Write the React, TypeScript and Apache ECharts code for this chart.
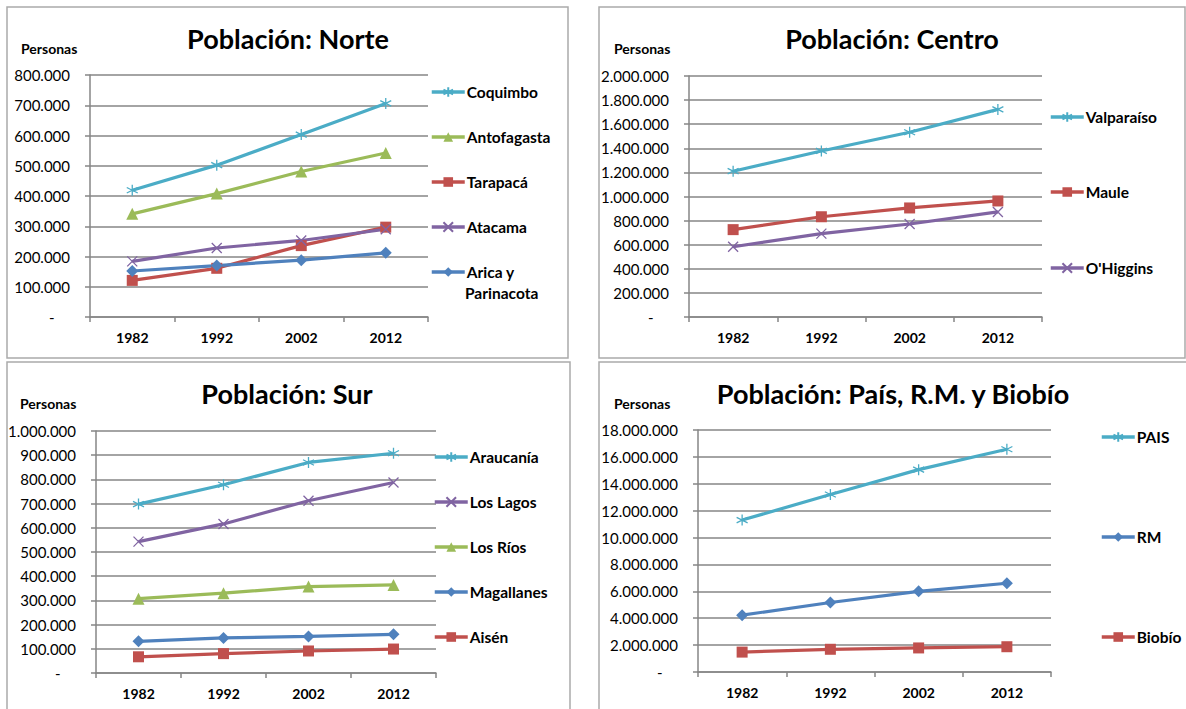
import React, { useEffect, useRef } from "react";
import * as echarts from "echarts";

const years = ["1982", "1992", "2002", "2012"];

// Norte
const coquimbo = [419000, 502000, 603000, 706000];
const antofagasta = [341000, 408000, 481000, 542000];
const tarapaca = [121000, 161000, 236000, 297000];
const atacama = [184000, 228000, 253000, 290000];
const arica = [152000, 170000, 188000, 212000];

// Centro
const valparaiso = [1210000, 1378000, 1533000, 1723000];
const maule = [725000, 832000, 905000, 963000];
const ohiggins = [583000, 692000, 772000, 872000];

// Sur
const araucania = [698000, 778000, 870000, 908000];
const losLagos = [543000, 616000, 712000, 787000];
const losRios = [307000, 330000, 357000, 364000];
const magallanes = [131000, 145000, 151000, 160000];
const aisen = [67000, 80000, 91000, 99000];

// País
const pais = [11300000, 13200000, 15050000, 16570000];
const rm = [4230000, 5170000, 6000000, 6600000];
const biobio = [1480000, 1690000, 1790000, 1880000];

const C_AQUA = "#4BACC6";
const C_GREEN = "#9BBB59";
const C_RED = "#C0504D";
const C_PURPLE = "#8064A2";
const C_BLUE = "#4F81BD";

const FONT = 'Lato, "Open Sans", sans-serif';

const STAR = "path://M0,-10L0,10M-8.66,-5L8.66,5M-8.66,5L8.66,-5";
const XMARK = "path://M-10,-10L10,10M-10,10L10,-10";

type Mk = "star" | "x" | "tri" | "sq" | "dia";

function markerOpts(m: Mk, color: string) {
  if (m === "star")
    return { symbol: STAR, symbolSize: 11, itemStyle: { color: color, borderColor: color, borderWidth: 1.3 } };
  if (m === "x")
    return { symbol: XMARK, symbolSize: 10, itemStyle: { color: color, borderColor: color, borderWidth: 1.3 } };
  if (m === "tri") return { symbol: "triangle", symbolSize: 12, itemStyle: { color: color } };
  if (m === "sq") return { symbol: "rect", symbolSize: 11, itemStyle: { color: color } };
  return { symbol: "diamond", symbolSize: 12, itemStyle: { color: color } };
}

function fmt(v: number) {
  if (v === 0) return "-    ";
  return String(v).replace(/\B(?=(\d{3})+(?!\d))/g, ".");
}

export default function App() {
  const ref = useRef<HTMLDivElement>(null);
  useEffect(() => {
    if (!ref.current) return;
    const chart = echarts.init(ref.current, null, { renderer: "svg" });

    const grids = [
      { left: 90, top: 75, width: 338, height: 242 },
      { left: 689, top: 76, width: 353, height: 241 },
      { left: 96, top: 431, width: 340, height: 242 },
      { left: 698, top: 430, width: 353, height: 242 },
    ];
    const yMax = [800000, 2000000, 1000000, 18000000];
    const yInt = [100000, 200000, 100000, 2000000];

    const xAxis = grids.map((_, i) => ({
      type: "category",
      gridIndex: i,
      data: years,
      boundaryGap: true,
      axisLine: { show: true, lineStyle: { color: "#868686", width: 1.5 } },
      axisTick: { show: true, length: 5, lineStyle: { color: "#868686", width: 1.5 } },
      axisLabel: { color: "#000", fontFamily: FONT, fontSize: 14, fontWeight: "bold", margin: 13 },
      splitLine: { show: false },
    }));
    const yAxis = grids.map((_, i) => ({
      type: "value",
      gridIndex: i,
      min: 0,
      max: yMax[i],
      interval: yInt[i],
      axisLine: { show: true, lineStyle: { color: "#868686", width: 1.5 } },
      axisTick: { show: true, length: 5, lineStyle: { color: "#868686", width: 1.5 } },
      axisLabel: { color: "#000", fontFamily: FONT, fontSize: 15, margin: 20, formatter: fmt },
      splitLine: { show: true, lineStyle: { color: "#868686", width: 1.5 } },
    }));

    const defs: [string, number[], string, Mk, number][] = [
      ["Coquimbo", coquimbo, C_AQUA, "star", 0],
      ["Antofagasta", antofagasta, C_GREEN, "tri", 0],
      ["Tarapacá", tarapaca, C_RED, "sq", 0],
      ["Atacama", atacama, C_PURPLE, "x", 0],
      ["Arica y Parinacota", arica, C_BLUE, "dia", 0],
      ["Valparaíso", valparaiso, C_AQUA, "star", 1],
      ["Maule", maule, C_RED, "sq", 1],
      ["O'Higgins", ohiggins, C_PURPLE, "x", 1],
      ["Araucanía", araucania, C_AQUA, "star", 2],
      ["Los Lagos", losLagos, C_PURPLE, "x", 2],
      ["Los Ríos", losRios, C_GREEN, "tri", 2],
      ["Magallanes", magallanes, C_BLUE, "dia", 2],
      ["Aisén", aisen, C_RED, "sq", 2],
      ["PAIS", pais, C_AQUA, "star", 3],
      ["RM", rm, C_BLUE, "dia", 3],
      ["Biobío", biobio, C_RED, "sq", 3],
    ];

    const series = defs.map(([name, data, color, mk, g]) => ({
      type: "line",
      name,
      data,
      xAxisIndex: g,
      yAxisIndex: g,
      lineStyle: { color, width: 3.2 },
      ...markerOpts(mk, color),
      showAllSymbol: true,
    }));

    // legend placement: [left, centerY]
    const legendPos: Record<string, [number, number]> = {
      Coquimbo: [430, 92],
      Antofagasta: [430, 137],
      "Tarapacá": [430, 182],
      Atacama: [430, 227],
      "Arica y Parinacota": [430, 272],
      "Valparaíso": [1049, 117],
      Maule: [1049, 192],
      "O'Higgins": [1049, 268],
      "Araucanía": [433, 457],
      "Los Lagos": [433, 502],
      "Los Ríos": [433, 547],
      Magallanes: [433, 592],
      "Aisén": [433, 637],
      PAIS: [1100, 437],
      RM: [1100, 537],
      "Biobío": [1100, 637],
    };

    const legend = defs.map(([name, , color]) => ({
      data: [name],
      left: legendPos[name][0],
      top: legendPos[name][1] - 10,
      orient: "vertical",
      itemWidth: 33,
      itemHeight: 12,
      padding: 0,
      selectedMode: false,
      lineStyle: { width: 3.5, color: color },
      formatter: (n: string) => (n === "Arica y Parinacota" ? "Arica y" : n),
      textStyle: { color: "#000", fontFamily: FONT, fontSize: 15.5, fontWeight: "bold", lineHeight: 20, padding: [0, 0, 0, -3] },
    }));

    const border = { stroke: "#ababab", lineWidth: 1.5, fill: "none" };
    const titleStyle = { fill: "#000", fontFamily: FONT, fontSize: 27, fontWeight: "bold", align: "center", verticalAlign: "middle" };
    const persStyle = { fill: "#000", fontFamily: FONT, fontSize: 14, fontWeight: "bold", align: "left", verticalAlign: "middle" };

    const graphic = [
      { type: "rect", shape: { x: 7, y: 7, width: 561, height: 351 }, style: border, silent: true },
      { type: "rect", shape: { x: 599, y: 7, width: 586, height: 351 }, style: border, silent: true },
      { type: "rect", shape: { x: 7, y: 362, width: 563, height: 360 }, style: border, silent: true },
      { type: "rect", shape: { x: 599, y: 362, width: 600, height: 360 }, style: border, silent: true },
      { type: "text", x: 288, y: 38, style: { ...titleStyle, text: "Población: Norte" } },
      { type: "text", x: 892, y: 38, style: { ...titleStyle, text: "Población: Centro" } },
      { type: "text", x: 287, y: 393, style: { ...titleStyle, text: "Población: Sur" } },
      { type: "text", x: 893, y: 393, style: { ...titleStyle, text: "Población: País, R.M. y Biobío" } },
      { type: "text", x: 21, y: 48, style: { ...persStyle, text: "Personas" } },
      { type: "text", x: 614, y: 48, style: { ...persStyle, text: "Personas" } },
      { type: "text", x: 20, y: 403, style: { ...persStyle, text: "Personas" } },
      { type: "text", x: 614, y: 403, style: { ...persStyle, text: "Personas" } },
      {
        type: "text",
        x: 465,
        y: 293,
        style: { fill: "#000", fontFamily: FONT, fontSize: 15.5, fontWeight: "bold", align: "left", verticalAlign: "middle", text: "Parinacota" },
      },
    ];

    chart.setOption({
      animation: false,
      backgroundColor: "#ffffff",
      grid: grids,
      xAxis,
      yAxis,
      legend,
      series,
      graphic,
    });
    return () => chart.dispose();
  }, []);
  return (
    <div
      ref={ref}
      style={{ position: "absolute", left: 0, top: 0, width: 1186, height: 709 }}
    />
  );
}
